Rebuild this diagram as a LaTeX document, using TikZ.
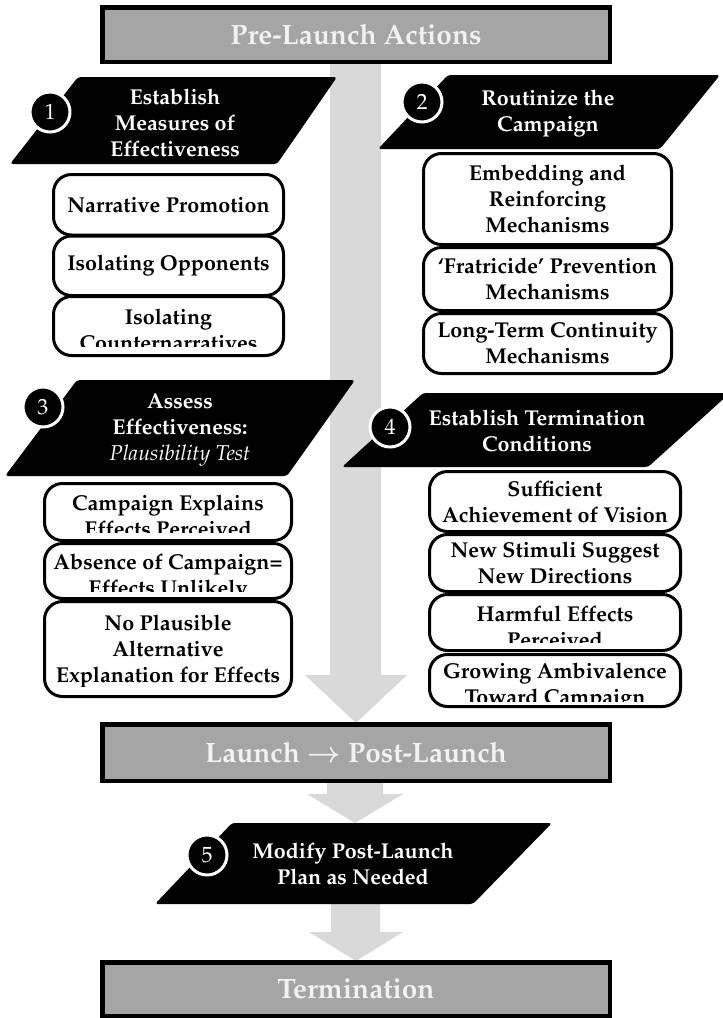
\documentclass[tikz,border=0pt]{standalone}
\usepackage[T1]{fontenc}
\usepackage{mathpazo}
\usepackage{trimclip}

\definecolor{headgrey}{HTML}{A5A5A5}
\definecolor{flowgrey}{HTML}{D9D9D9}
\definecolor{offwhite}{HTML}{F2F2F2}

% lines whose bottom is cut off by the box
\newcommand{\cutlines}[2]{\clipbox{0pt #1 0pt 0pt}{\begin{tabular}{@{}c@{}}#2\end{tabular}}}

\begin{document}
\begin{tikzpicture}[x=1pt, y=-1pt,
  phase/.style={draw=black, line width=4.5pt, fill=headgrey, text=offwhite, outer sep=0pt, minimum width=507.5pt, font=\fontsize{28}{32}\selectfont\bfseries},
  stepshape/.style={fill=black, rounded corners=3pt},
  steptext/.style={text=white, align=center, font=\fontsize{21.5}{26}\selectfont\bfseries},
  num/.style={circle, fill=black, draw=white, line width=3pt, minimum size=40pt, inner sep=0pt, text=white, font=\fontsize{22}{22}\selectfont},
  item/.style={draw=black, line width=3pt, fill=white, rounded corners=18pt, outer sep=0pt, inner sep=0pt, align=center, font=\fontsize{21.5}{26}\selectfont\bfseries},
  flow/.style={fill=flowgrey}]
\useasboundingbox (0,0) rectangle (723,1018);

% grey flow arrows
\fill[flow] (330,62) -- (381,62) -- (381,675) -- (407,675) -- (356,723) -- (305,675) -- (330,675) -- cycle;
\fill[flow] (327,780) -- (383,780) -- (383,794) -- (403,794) -- (355,823) -- (307,794) -- (327,794) -- cycle;
\fill[flow] (331,904) -- (380,904) -- (380,932) -- (403,932) -- (356,961) -- (309,932) -- (331,932) -- cycle;

% phases
\node[phase, minimum height=54.5pt] (pre) at (356,34.5) {Pre-Launch Actions};
\node[phase, minimum height=56.5pt] (launch) at (356,752.5) {Launch {\boldmath$\rightarrow$} Post-Launch};
\node[phase, minimum height=53.5pt] (term) at (356,989) {Termination};

% step 1
\fill[stepshape] (78,77) -- (337,77) -- (277,164) -- (10,164) -- cycle;
\node[steptext] (s1) at (175,123) {Establish\\Measures of\\Effectiveness};
\node[num] (n1) at (50,112) {1};
\node[item, minimum width=230pt, minimum height=60.5pt] (i1a) at (168.5,204.75) {Narrative Promotion};
\node[item, minimum width=230pt, minimum height=59.5pt] (i1b) at (168.5,265.75) {Isolating Opponents};
\node[item, minimum width=230pt, minimum height=59pt] (i1c) at (168.5,326) {\cutlines{12pt}{Isolating\\Counternarratives}};

% step 2
\fill[stepshape] (448,75) -- (720,75) -- (660,149) -- (378,149) -- cycle;
\node[steptext] (s2) at (548,113) {Routinize the\\Campaign};
\node[num] (n2) at (422,102) {2};
\node[item, minimum width=248pt, minimum height=91pt] (i2a) at (547.5,199) {Embedding and\\Reinforcing\\Mechanisms};
\node[item, minimum width=248pt, minimum height=63pt] (i2b) at (547.5,279) {`Fratricide' Prevention\\Mechanisms};
\node[item, minimum width=248pt, minimum height=60pt] (i2c) at (547.5,343.5) {Long-Term Continuity\\Mechanisms};

% step 3
\fill[stepshape] (77,380) -- (355,380) -- (287,476) -- (5,476) -- cycle;
\node[steptext] (s3) at (180,430) {Assess\\Effectiveness:\\{\mdseries\itshape Plausibility Test}};
\node[num] (n3) at (43,407) {3};
\node[item, minimum width=247pt, minimum height=57pt] (i3a) at (168,512) {\cutlines{12pt}{Campaign Explains\\Effects Perceived}};
\node[item, minimum width=247pt, minimum height=55pt] (i3b) at (168,571) {\cutlines{12pt}{Absence of Campaign=\\Effects Unlikely}};
\node[item, minimum width=247pt, minimum height=95pt] (i3c) at (168,649) {\cutlines{4pt}{No Plausible\\Alternative\\Explanation for Effects}};

% step 4
\fill[stepshape] (423,393) -- (730,393) -- (648,467) -- (342,467) -- cycle;
\node[steptext] (s4) at (537,431) {Establish Termination\\Conditions};
\node[num] (n4) at (390,427) {4};
\node[item, minimum width=251pt, minimum height=60pt] (i4a) at (555,501.5) {Sufficient\\Achievement of Vision};
\node[item, minimum width=251pt, minimum height=57pt] (i4b) at (555,563) {New Stimuli Suggest\\New Directions};
\node[item, minimum width=251pt, minimum height=56pt] (i4c) at (555,622.5) {\cutlines{13pt}{Harmful Effects\\Perceived}};
\node[item, minimum width=251pt, minimum height=52pt] (i4d) at (555,680.5) {\cutlines{11pt}{Growing Ambivalence\\Toward Campaign}};

% step 5
\fill[stepshape] (232,823) -- (552,823) -- (473,904) -- (155,904) -- cycle;
\node[steptext] (s5) at (353,864) {Modify Post-Launch\\Plan as Needed};
\node[num] (n5) at (207,855) {5};

\end{tikzpicture}
\end{document}
